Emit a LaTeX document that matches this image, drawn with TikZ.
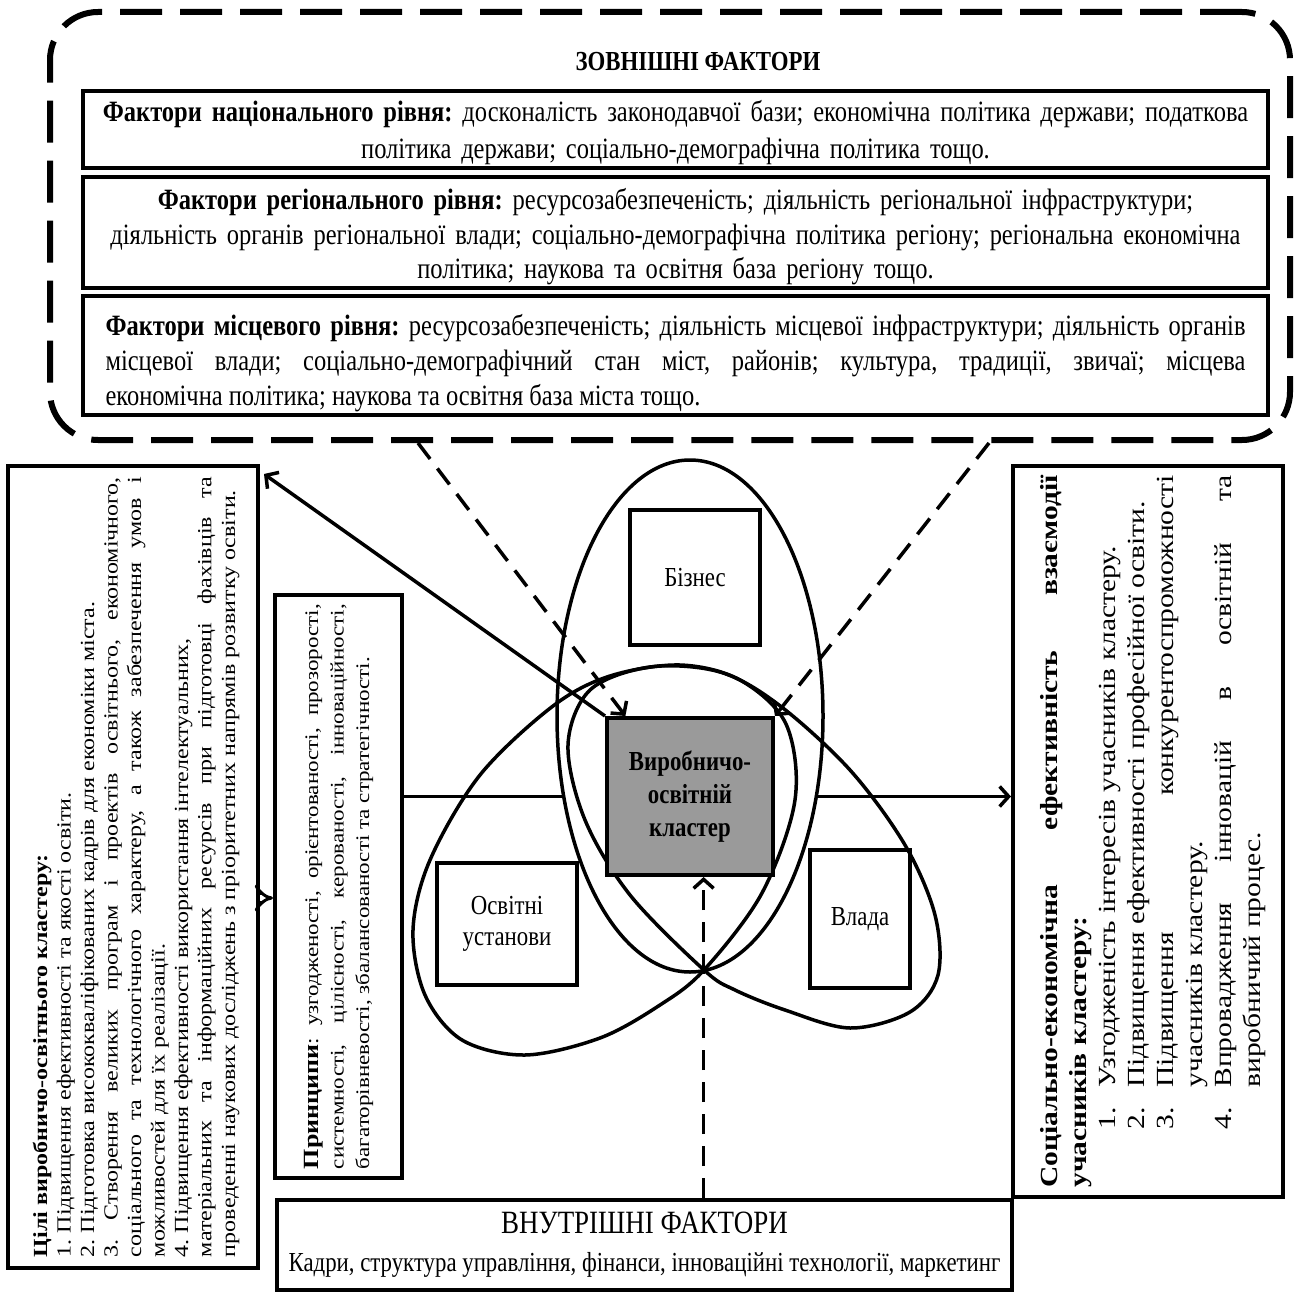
\documentclass[tikz,border=0pt]{standalone}
\usepackage{fontspec}
\setmainfont[FakeStretch=0.83]{Liberation Serif}
\newfontfamily\wideserif[FakeStretch=1.2]{Liberation Serif}
\usetikzlibrary{positioning,arrows.meta,shapes.geometric,calc}
\definecolor{ink}{HTML}{000000}
\definecolor{clusterfill}{HTML}{9A9A9A}
\setlength{\parindent}{0pt}
\frenchspacing
\newcommand{\fsz}[2]{\fontsize{#1}{#2}\selectfont}
\newcommand{\itm}[1]{\makebox[100pt][l]{\hspace{58pt}#1}}

\begin{document}
\begin{tikzpicture}[x=1pt, y=-1pt,
  >={Straight Barb[length=9pt, width=20pt]},
  tbox/.style={draw=ink, line width=4pt, text width=1160pt, inner xsep=12.5pt, inner ysep=0pt,
               align=center, font=\fsz{29.5}{36}},
  rbox/.style={draw=ink, line width=4pt, rotate=90, align=justify, inner ysep=0pt},
  actor/.style={draw=ink, line width=4pt, align=center, inner sep=0pt, font=\fsz{27.5}{31}},
  petal/.style={draw=ink, line width=3.5pt},
  flow/.style={->, draw=ink, line width=3.5pt},
  extarrow/.style={->, draw=ink, line width=3.5pt, dash pattern=on 20pt off 12pt}]
\useasboundingbox (0,0) rectangle (1304,1295);
% -- external factors
\node[draw=ink, line width=6pt, rounded corners=48pt, dash pattern=on 42pt off 18pt,
      minimum width=1240pt, minimum height=428pt, inner sep=0pt] (extframe) at (670,226) {};
\node[font=\bfseries\fsz{27.5}{30}] (exttitle) at (698,62) {ЗОВНІШНІ ФАКТОРИ};
\node[tbox, minimum height=77pt, text height=27.5pt, text depth=42.5pt] (national) at (675.5,129.5)
  {\textbf{Фактори національного рівня:} досконалість законодавчої бази; економічна політика держави; податкова\\
   політика держави; соціально-демографічна політика тощо.};
\node[tbox, minimum height=111pt, font=\fsz{29.5}{35}, text height=29.5pt, text depth=76.5pt] (regional) at (675.5,232.5)
  {\textbf{Фактори регіонального рівня:} ресурсозабезпеченість; діяльність регіональної інфраструктури;\\
   діяльність органів регіональної влади; соціально-демографічна політика регіону; регіональна економічна\\
   політика; наукова та освітня база регіону тощо.};
\node[tbox, minimum height=119pt, text width=1140pt, inner xsep=22.5pt, align=justify, font=\fsz{29.5}{35},
      text height=37pt, text depth=76.5pt] (local) at (675.5,355.5)
  {\textbf{Фактори місцевого рівня:} ресурсозабезпеченість; діяльність місцевої інфраструктури; діяльність органів\linebreak
   місцевої влади; соціально-демографічний стан міст, районів; культура, традиції, звичаї; місцева\linebreak
   економічна політика; наукова та освітня база міста тощо.};
% -- cluster participants
\node[petal, ellipse, minimum width=266pt, minimum height=512pt, inner sep=0pt] (bizell) at (690,716) {};
\draw[petal] plot[smooth cycle, tension=0.55] coordinates {(704,970) (762,893) (795,800) (786,724)
  (740,680) (680,665) (610,676) (553,706) (480,775) (430,860) (413,930) (425,995) (462,1040)
  (525,1055) (600,1038) (660,1005)};
\draw[petal] plot[smooth cycle, tension=0.55] coordinates {(704,970) (630,895) (585,820) (568,745)
  (590,690) (650,667) (720,672) (779,705) (850,770) (905,845) (935,915) (938,975) (910,1012)
  (850,1028) (785,1010) (735,990)};
\node[actor, minimum width=130pt, minimum height=135pt] (business) at (695,577.5) {Бізнес};
\node[actor, minimum width=140pt, minimum height=122pt] (edu) at (507,924) {Освітні\\установи};
\node[actor, minimum width=100pt, minimum height=138pt] (gov) at (860,919) {Влада};
\node[actor, fill=clusterfill, minimum width=166pt, minimum height=157pt, font=\bfseries\fsz{27.5}{33}]
  (cluster) at (690,796.5) {Виробничо-\\освітній\\кластер};
% -- side boxes
\node[rbox, minimum width=802pt, minimum height=250pt, text width=780pt, inner xsep=11pt,
      font=\wideserif\fsz{20}{23.5}, text height=21pt, text depth=193pt] (goals) at (133,867)
  {\textbf{Цілі виробничо-освітнього кластеру:}\par
   1. Підвищення ефективності та якості освіти.\par
   2. Підготовка висококваліфікованих кадрів для економіки міста.\par
   3. Створення великих програм і проектів освітнього, економічного,\linebreak
   соціального та технологічного характеру, а також забезпечення умов і\linebreak
   можливостей для їх реалізації.\par
   4. Підвищення ефективності використання інтелектуальних,\par
   матеріальних та інформаційних ресурсів при підготовці фахівців та\linebreak
   проведенні наукових досліджень з пріоритетних напрямів розвитку освіти.};
\node[draw=ink, line width=4pt, rotate=90, inner xsep=9pt, inner ysep=0pt,
      font=\wideserif\fsz{19.2}{25.5}] (princ) at (338.5,886.5)
  {\parbox[c][127pt][c]{565pt}{{\bfseries\fsz{21.7}{25.5}Принципи}: узгодженості, орієнтованості, прозорості,\linebreak
   системності, цілісності, керованості, інноваційності,\linebreak
   багаторівневості, збалансованості та стратегічності.}};
\node[rbox, minimum width=731pt, minimum height=270pt, text width=712pt, inner xsep=9.5pt,
      font=\wideserif\fsz{24.6}{29}, text height=27pt, text depth=209pt] (outcome) at (1148,831.5)
  {\textbf{Соціально-економічна ефективність взаємодії\linebreak учасників кластеру:}\par
   \itm{1.}Узгодженість інтересів учасників кластеру.\par
   \itm{2.}Підвищення ефективності професійної освіти.\par
   \itm{3.}Підвищення конкурентоспроможності\linebreak
   \hspace*{100pt}учасників кластеру.\par
   \itm{4.}Впровадження інновацій в освітній та\linebreak
   \hspace*{100pt}виробничий процес.};
% -- internal factors
\node[draw=ink, line width=4pt, minimum width=735pt, minimum height=90pt, inner sep=0pt, align=center,
      font=\fsz{27.5}{38}] (internal) at (644.5,1245)
  {\raisebox{-5pt}{\fsz{32.5}{38}ВНУТРІШНІ ФАКТОРИ}\\
   \raisebox{-5pt}{Кадри, структура управління, фінанси, інноваційні технології, маркетинг}};
% -- connectors
\coordinate (dblrow) at (0,898);
\path (extframe.south) ++(-252,0) coordinate (extl);
\path (extframe.south) ++(319,0) coordinate (extr);
\coordinate (intin) at ($(cluster.south west)!0.58!(cluster.south east)$);
\coordinate (bizl) at ($(bizell.center)+(-128,80.5)$);
\coordinate (bizr) at ($(bizell.center)+(128,80.5)$);
\draw[flow] (cluster.north west) -- ([xshift=4pt, yshift=-10pt]goals.south east);
\draw[petal] (princ.south |- cluster.west) -- (bizl);
\draw[flow] (bizr) -- (outcome.north |- cluster.east);
\draw[draw=ink, line width=3pt, double distance=6pt, -{Implies}] (goals.south |- dblrow) -- (princ.north |- dblrow);
\draw[extarrow] (extl) -- ($(cluster.north west)!0.12!(cluster.north east)$);
\draw[extarrow] (extr) -- (cluster.north east);
\draw[extarrow] (internal.north -| intin) -- (intin);
\end{tikzpicture}
\end{document}
